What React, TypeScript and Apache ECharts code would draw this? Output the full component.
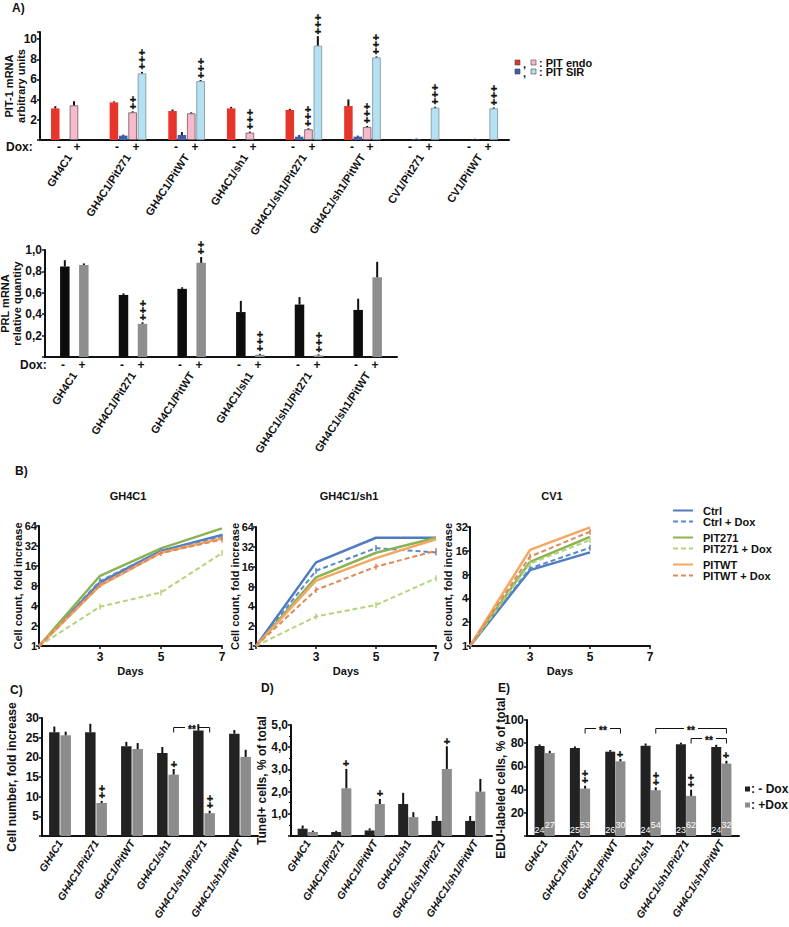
import React, { useEffect, useRef } from "react";
import * as echarts from "echarts";

const FF = "Liberation Sans, Arial, sans-serif";

// ---------------- Panel A: PIT-1 mRNA ----------------
const aGroups = ["GH4C1", "GH4C1/Pit271", "GH4C1/PitWT", "GH4C1/sh1", "GH4C1/sh1/Pit271", "GH4C1/sh1/PitWT", "CV1/Pit271", "CV1/PitWT"];
const aEndoMinus = [3.13, 3.73, 2.87, 3.13, 2.97, 3.37, null, null];
const aEndoMinusErr = [0.17, 0.05, 0.1, 0.1, 0.07, 0.6, 0, 0];
const aSirMinus = [null, 0.43, 0.5, null, 0.33, 0.33, 0.07, 0.05];
const aSirMinusErr = [0, 0.05, 0.23, 0, 0.1, 0.05, 0.02, 0.02];
const aEndoPlus = [3.43, 2.74, 2.64, 0.73, 1.06, 1.29, null, null];
const aEndoPlusErr = [0.36, 0.05, 0.05, 0.05, 0.05, 0.05, 0, 0];
const aEndoPlusSig = ["", "++", "", "+++", "+++", "+++", "", ""];
const aSirPlus = [null, 6.6, 5.84, null, 9.34, 8.18, 3.2, 3.13];
const aSirPlusErr = [0, 0.1, 0.05, 0, 0.9, 0.05, 0.05, 0.05];
const aSirPlusSig = ["", "+++", "+++", "", "+++", "+++", "+++", "+++"];

// ---------------- PRL mRNA ----------------
const prlGroups = ["GH4C1", "GH4C1/Pit271", "GH4C1/PitWT", "GH4C1/sh1", "GH4C1/sh1/Pit271", "GH4C1/sh1/PitWT"];
const prlMinus = [0.845, 0.58, 0.637, 0.42, 0.49, 0.44];
const prlMinusErr = [0.055, 0.01, 0.01, 0.1, 0.065, 0.1];
const prlPlus = [0.86, 0.31, 0.88, 0.02, 0.015, 0.745];
const prlPlusErr = [0.01, 0.01, 0.05, 0.005, 0.005, 0.14];
const prlPlusSig = ["", "+++", "++", "+++", "+++", ""];

// ---------------- Panel B: growth curves ----------------
const days = [1, 3, 5, 7];
const bNames = ["Ctrl", "Ctrl + Dox", "PIT271", "PIT271 + Dox", "PITWT", "PITWT + Dox"];
const ghCtrl = [1, 9.1, 27, 47];
const ghCtrlDox = [1, 9.5, 27, 44];
const ghPit271 = [1, 11.4, 29.5, 59];
const ghPit271Dox = [1, 3.9, 6.4, 25];
const ghPitWT = [1, 8.1, 25.4, 41.7];
const ghPitWTDox = [1, 8.3, 25, 40];
const shCtrl = [1, 18.6, 44, 44];
const shCtrlDox = [1, 13.9, 30.6, 26.3];
const shPit271 = [1, 11, 26, 44];
const shPit271Dox = [1, 2.8, 4.2, 10.7];
const shPitWT = [1, 9.8, 21.6, 41.8];
const shPitWTDox = [1, 7.1, 16, 27.9];
const cvCtrl = [1, 9.1, 15.3];
const cvCtrlDox = [1, 9.6, 17.5];
const cvPit271 = [1, 11.6, 24];
const cvPit271Dox = [1, 11, 21.9];
const cvPitWT = [1, 16.4, 31.7];
const cvPitWTDox = [1, 13.5, 27.9];
const dayTicks = [3, 5, 7];

// ---------------- Panels C, D, E ----------------
const cdeGroups = ["GH4C1", "GH4C1/Pit271", "GH4C1/PitWT", "GH4C1/sh1", "GH4C1/sh1/Pit271", "GH4C1/sh1/PitWT"];
const cMinus = [26.4, 26.4, 22.8, 21.1, 26.8, 26.0];
const cMinusErr = [1.3, 2.0, 1.0, 1.4, 1.5, 0.8];
const cPlus = [25.6, 8.4, 22.1, 15.6, 5.8, 20.1];
const cPlusErr = [0.8, 0.4, 1.4, 1.3, 0.5, 1.7];
const cPlusSig = ["", "++", "", "+", "++", ""];
const cBrackets = [{ c1: 3, c2: 4, y: 27.6 }];

const dMinus = [0.33, 0.18, 0.25, 1.44, 0.68, 0.68];
const dMinusErr = [0.12, 0.03, 0.07, 0.48, 0.2, 0.2];
const dPlus = [0.18, 2.15, 1.44, 0.85, 3.02, 2.0];
const dPlusErr = [0.04, 0.85, 0.21, 0.2, 1.0, 0.55];
const dPlusSig = ["", "+", "+", "", "+", ""];

const eMinus = [77.5, 75.8, 72.7, 77.8, 79, 76.7];
const eMinusErr = [1, 1, 1, 1.5, 1, 1.5];
const ePlus = [71.5, 40.9, 64.4, 39.5, 34.6, 62.4];
const ePlusErr = [1.5, 2, 1.5, 2, 4.9, 2];
const ePlusSig = ["", "++", "+", "++", "++", "+"];
const eMinusN = [24, 25, 26, 24, 23, 24];
const ePlusN = [27, 53, 30, 54, 62, 32];
const eBrackets = [
  { c1: 1, c2: 2, y: 92.7 },
  { c1: 3, c2: 5, y: 92.7 },
  { c1: 4, c2: 5, y: 84.1 },
];

// ---------------- helpers ----------------
const INK = "#111";
const txt = (size: number, extra: any = {}) => ({ fontFamily: FF, fontWeight: "bold", fontSize: size, color: INK, ...extra });
const tStyle = (text: string, size: number, align = "center", strokeW = 0) => ({
  text,
  fill: INK,
  stroke: strokeW > 0 ? INK : "none",
  lineWidth: strokeW,
  fontSize: size,
  fontWeight: "bold",
  fontFamily: FF,
  align,
  verticalAlign: "middle",
});

function offsetOf(slot: number, n: number, w: number, gap: number) {
  const sum = n * w * (1 + gap) - w * gap;
  return -sum / 2 + slot * w * (1 + gap) + w / 2;
}

type ErrItem = { cat: number; val: number; err: number; sig: string; slot: number };

function errItems(vals: (number | null)[], errs: number[], sigs: string[] | null, slot: number): ErrItem[] {
  const out: ErrItem[] = [];
  vals.forEach((v, i) => {
    if (v == null) return;
    out.push({ cat: i, val: v, err: errs[i] || 0, sig: sigs ? sigs[i] : "", slot });
  });
  return out;
}

function errSeries(idx: number, items: ErrItem[], n: number, w: number, gap: number, sigSize: number, first: number, step: number) {
  return {
    type: "custom",
    xAxisIndex: idx,
    yAxisIndex: idx,
    z: 10,
    silent: true,
    itemStyle: { color: INK },
    data: items.map((it) => [it.cat, it.val + it.err]),
    encode: { x: 0, y: 1 },
    renderItem: (params: any, api: any) => {
      const it = items[params.dataIndex];
      const p0 = api.coord([it.cat, it.val]);
      const p1 = api.coord([it.cat, it.val + it.err]);
      const x = p0[0] + offsetOf(it.slot, n, w, gap);
      const children: any[] = [];
      if (it.err > 0)
        children.push({ type: "line", shape: { x1: x, y1: p0[1], x2: x, y2: p1[1] - 0.5 }, style: { stroke: INK, lineWidth: 2 } });
      it.sig.split("").forEach((ch, k) => {
        children.push({ type: "text", x: Math.round(x), y: Math.round(p1[1] - first - k * step), style: tStyle(ch, sigSize, "center", 0.4) });
      });
      return { type: "group", children };
    },
  };
}

function doxSeries(idx: number, nCats: number, marks: [number, string][], n: number, w: number, gap: number, dy: number) {
  const items: { cat: number; slot: number; t: string }[] = [];
  for (let c = 0; c < nCats; c++) for (const [slot, t] of marks) items.push({ cat: c, slot, t });
  return {
    type: "custom",
    xAxisIndex: idx,
    yAxisIndex: idx,
    silent: true,
    itemStyle: { color: INK },
    data: items.map((it) => [it.cat, 0]),
    encode: { x: 0, y: 1 },
    renderItem: (params: any, api: any) => {
      const it = items[params.dataIndex];
      const p = api.coord([it.cat, 0]);
      return { type: "text", x: Math.round(p[0] + offsetOf(it.slot, n, w, gap)), y: Math.round(p[1] + dy), style: tStyle(it.t, 12) };
    },
  };
}

function bracketSeries(idx: number, brs: { c1: number; c2: number; y: number }[], slot: number, n: number, w: number, gap: number) {
  return {
    type: "custom",
    xAxisIndex: idx,
    yAxisIndex: idx,
    silent: true,
    z: 12,
    itemStyle: { color: INK },
    data: brs.map((b) => [b.c1, b.y]),
    encode: { x: 0, y: 1 },
    renderItem: (params: any, api: any) => {
      const b = brs[params.dataIndex];
      const p1 = api.coord([b.c1, b.y]);
      const p2 = api.coord([b.c2, b.y]);
      const x1 = p1[0] + offsetOf(slot, n, w, gap);
      const x2 = p2[0] + offsetOf(slot, n, w, gap);
      const y = Math.round(p1[1]) + 0.5;
      const xm = Math.round((x1 + x2) / 2);
      const st = { stroke: INK, lineWidth: 1, fill: "none" };
      return {
        type: "group",
        children: [
          { type: "polyline", shape: { points: [[x1, y + 5], [x1, y], [xm - 7, y]] }, style: st },
          { type: "polyline", shape: { points: [[xm + 7, y], [x2, y], [x2, y + 5]] }, style: st },
          { type: "text", x: xm, y: y + 1.5, style: tStyle("**", 10, "center", 0.3) },
        ],
      };
    },
  };
}

const axisLine = { show: true, lineStyle: { color: INK, width: 2 } };

function catAxis(grid: number, data: string[], rotate: number, margin: number, italic: boolean, size = 12) {
  return {
    type: "category",
    gridIndex: grid,
    data,
    axisLine,
    axisTick: { show: false },
    axisLabel: { interval: 0, rotate, margin, ...txt(size), fontStyle: italic ? "italic" : "normal", hideOverlap: false },
  };
}

function valAxis(grid: number, max: number, interval: number, fmt: (v: number) => string, name: string, nameGap: number, nameSize = 12, extra: any = {}) {
  return {
    type: "value",
    gridIndex: grid,
    min: 0,
    max,
    interval,
    axisLine,
    axisTick: { show: true, length: 3, lineStyle: { color: INK, width: 1.5 } },
    splitLine: { show: false },
    axisLabel: { ...txt(12), margin: 3, formatter: fmt },
    name,
    nameLocation: "middle",
    nameGap,
    nameRotate: 90,
    nameMoveOverlap: false,
    nameTextStyle: txt(nameSize, { lineHeight: nameSize + 1 }),
    ...extra,
  };
}

function barSeries(idx: number, name: string, data: (number | null)[], color: string, w: number, gap: string, extra: any = {}) {
  return {
    type: "bar",
    name,
    xAxisIndex: idx,
    yAxisIndex: idx,
    data,
    barWidth: w,
    barGap: gap,
    itemStyle: { color },
    ...extra,
  };
}

const bColors = ["#4f7cc1", "#5b88c8", "#8ab352", "#b3d47a", "#f5a662", "#dd8a58"];
const bDashed = [false, true, false, true, false, true];

function lineSet(idx: number, sets: number[][]) {
  return sets.map((vals, k) => ({
    type: "line",
    name: bNames[k],
    xAxisIndex: idx,
    yAxisIndex: idx,
    data: vals.map((v, i) => (i === 0 ? { value: [days[i], v], symbol: "none" } : [days[i], v])),
    showSymbol: bDashed[k],
    symbol: "rect",
    symbolSize: [1.5, 6],
    itemStyle: { color: bColors[k] },
    lineStyle: { color: bColors[k], width: bDashed[k] ? 2 : 2.5, type: bDashed[k] ? [5, 3] : "solid" },
    z: 3,
  }));
}

function bxAxis(grid: number) {
  return {
    type: "value",
    gridIndex: grid,
    min: 1,
    max: 7,
    interval: 2,
    axisLine,
    axisTick: { show: true, length: 3, lineStyle: { color: INK, width: 1.5 } },
    splitLine: { show: false },
    axisLabel: { ...txt(12), margin: 5, formatter: (v: number) => (dayTicks.indexOf(v) >= 0 ? String(v) : "") },
    name: "Days",
    nameLocation: "middle",
    nameGap: 19,
    nameMoveOverlap: false,
    nameTextStyle: txt(11),
  };
}

function byAxis(grid: number, max: number, splits: number, nameGap: number) {
  return {
    type: "log",
    logBase: 2,
    gridIndex: grid,
    min: 1,
    max,
    splitNumber: splits,
    axisLine,
    axisTick: { show: true, length: 3, lineStyle: { color: INK, width: 1.5 } },
    splitLine: { show: false },
    minorTick: { show: false },
    axisLabel: { ...txt(11), margin: 2, formatter: (v: number) => String(Math.round(v)) },
    name: "Cell count, fold increase",
    nameLocation: "middle",
    nameGap,
    nameRotate: 90,
    nameMoveOverlap: false,
    nameTextStyle: txt(11),
  };
}

const comma1 = (v: number) => (v <= 0 ? "" : v.toFixed(1).replace(".", ","));

function buildOption(): any {
  const aW = 8.5, aG = 0.1;
  const pW = 9.5, pG = 1.0;
  const cW = 10.5, cG = 0.08;
  const dW = 10, dG = 0.02;
  const eW = 10, eG = 0.02;

  const g = (left: number, top: number, width: number, height: number) => ({
    left, top, width, height, containLabel: false, outerBoundsMode: "none",
  });
  const grid = [
    g(40, 32, 469, 108),
    g(45, 250, 352, 107),
    g(39, 526, 183, 120),
    g(256, 527, 180, 119),
    g(470, 527, 180, 119),
    g(42, 718, 216, 118),
    g(291, 725, 201, 111),
    g(527, 720, 212, 116),
  ];

  const xAxis = [
    catAxis(0, aGroups, 57, 15, false, 11),
    catAxis(1, prlGroups, 57, 16, false, 11),
    bxAxis(2),
    bxAxis(3),
    bxAxis(4),
    catAxis(5, cdeGroups, 58, 5, true, 10.5),
    catAxis(6, cdeGroups, 58, 5, true, 10.5),
    catAxis(7, cdeGroups, 58, 5, true, 10.5),
  ];

  const yAxis = [
    valAxis(0, 10.7, 2, (v) => (v > 0 && v % 2 === 0 ? String(v) : ""), "PIT-1 mRNA\narbitrary units", 13, 11),
    valAxis(1, 1.0, 0.2, comma1, "PRL mRNA\nrelative quantity", 22, 11),
    byAxis(2, 64, 6, 16),
    byAxis(3, 64, 6, 16),
    byAxis(4, 32, 5, 17),
    valAxis(5, 30, 5, (v) => (v > 0 ? String(v) : ""), "Cell number, fold increase", 24),
    valAxis(6, 5, 1, comma1, "Tunel+ cells, % of total", 23, 12, {
      minorTick: { show: true, splitNumber: 2, length: 2, lineStyle: { color: INK, width: 1 } },
    }),
    valAxis(7, 100, 20, (v) => (v > 0 ? String(v) : ""), "EDU-labeled cells, % of total", 20),
  ];

  const series: any[] = [
    // A
    barSeries(0, "PIT endo -", aEndoMinus, "#e8352b", aW, "10%"),
    barSeries(0, "PIT SIR -", aSirMinus, "#3e5ea9", aW, "10%"),
    barSeries(0, "PIT endo +", aEndoPlus, "#f5bacb", aW, "10%", { itemStyle: { color: "#f5bacb", borderColor: "#6e5a60", borderWidth: 0.8 } }),
    barSeries(0, "PIT SIR +", aSirPlus, "#b5e1f4", aW, "10%", { itemStyle: { color: "#b5e1f4", borderColor: "#7d8f97", borderWidth: 0.8 } }),
    errSeries(
      0,
      [
        ...errItems(aEndoMinus, aEndoMinusErr, null, 0),
        ...errItems(aSirMinus, aSirMinusErr, null, 1),
        ...errItems(aEndoPlus, aEndoPlusErr, aEndoPlusSig, 2),
        ...errItems(aSirPlus, aSirPlusErr, aSirPlusSig, 3),
      ],
      4, aW, aG, 11, 6, 7
    ),
    doxSeries(0, aGroups.length, [[0.35, "-"], [2.35, "+"]], 4, aW, aG, 7),
    // PRL
    barSeries(1, "PRL -", prlMinus, "#0d0d0d", pW, "100%"),
    barSeries(1, "PRL +", prlPlus, "#8e8e8e", pW, "100%"),
    errSeries(1, [...errItems(prlMinus, prlMinusErr, null, 0), ...errItems(prlPlus, prlPlusErr, prlPlusSig, 1)], 2, pW, pG, 11, 6, 7),
    doxSeries(1, prlGroups.length, [[-0.1, "-"], [0.9, "+"]], 2, pW, pG, 8),
    // B
    ...lineSet(2, [ghCtrl, ghCtrlDox, ghPit271, ghPit271Dox, ghPitWT, ghPitWTDox]),
    ...lineSet(3, [shCtrl, shCtrlDox, shPit271, shPit271Dox, shPitWT, shPitWTDox]),
    ...lineSet(4, [cvCtrl, cvCtrlDox, cvPit271, cvPit271Dox, cvPitWT, cvPitWTDox]),
    // C
    barSeries(5, "C -", cMinus, "#222222", cW, "8%"),
    barSeries(5, "C +", cPlus, "#8c8c8c", cW, "8%"),
    errSeries(5, [...errItems(cMinus, cMinusErr, null, 0), ...errItems(cPlus, cPlusErr, cPlusSig, 1)], 2, cW, cG, 11, 6, 7.3),
    bracketSeries(5, cBrackets, 1, 2, cW, cG),
    // D
    barSeries(6, "D -", dMinus, "#222222", dW, "2%"),
    barSeries(6, "D +", dPlus, "#8c8c8c", dW, "2%"),
    errSeries(6, [...errItems(dMinus, dMinusErr, null, 0), ...errItems(dPlus, dPlusErr, dPlusSig, 1)], 2, dW, dG, 11, 6, 7.3),
    // E
    barSeries(7, "- Dox", eMinus, "#222222", eW, "2%", {
      label: { show: true, position: "insideBottom", distance: 2, color: "#fff", fontSize: 9, fontFamily: FF, formatter: (p: any) => String(eMinusN[p.dataIndex]) },
    }),
    barSeries(7, "+Dox", ePlus, "#8c8c8c", eW, "2%", {
      label: { show: true, position: "insideBottom", distance: 7, color: "#fff", fontSize: 9, fontFamily: FF, formatter: (p: any) => String(ePlusN[p.dataIndex]) },
    }),
    errSeries(7, [...errItems(eMinus, eMinusErr, null, 0), ...errItems(ePlus, ePlusErr, ePlusSig, 1)], 2, eW, eG, 11, 6, 7.3),
    bracketSeries(7, eBrackets, 1, 2, eW, eG),
  ];

  const bLegend = (names: string[], top: number) => ({
    orient: "vertical",
    left: 672,
    top,
    padding: 0,
    itemWidth: 20,
    itemHeight: 9,
    itemGap: 0,
    selectedMode: false,
    data: names,
    itemStyle: { opacity: 0 },
    textStyle: txt(11, { padding: [0, 0, 0, 5] }),
  });

  const legend = [
    bLegend(["Ctrl", "Ctrl + Dox"], 505),
    bLegend(["PIT271", "PIT271 + Dox"], 532),
    bLegend(["PITWT", "PITWT + Dox"], 559),
    {
      orient: "vertical",
      left: 745,
      top: 783,
      padding: 0,
      itemWidth: 5,
      itemHeight: 5,
      itemGap: 4,
      icon: "rect",
      selectedMode: false,
      data: ["- Dox", "+Dox"],
      formatter: (n: string) => ": " + n,
      textStyle: txt(12, { padding: [0, 0, 0, -4] }),
    },
  ];

  const T = (text: string, x: number, y: number, size = 12, align = "left") => ({
    type: "text",
    x,
    y,
    silent: true,
    style: tStyle(text, size, align),
  });
  const sq = (x: number, y: number, fill: string) => ({
    type: "rect",
    silent: true,
    shape: { x, y, width: 5, height: 5 },
    style: { fill, stroke: "#444", lineWidth: 0.6 },
  });

  const graphic = [
    T("A)", 12, 8),
    T("B)", 15, 471),
    T("C)", 10, 690),
    T("D)", 261, 688),
    T("E)", 498, 688),
    T("Dox:", 6, 147, 12),
    T("Dox:", 20, 365, 12),
    sq(515, 60, "#e8352b"),
    T(",", 523, 64, 11),
    sq(531, 60, "#f5bacb"),
    T(": PIT endo", 539, 63, 11),
    sq(515, 69, "#3e5ea9"),
    T(",", 523, 73, 11),
    sq(531, 69, "#b5e1f4"),
    T(": PIT SIR", 539, 72, 11),
    T("GH4C1", 128, 496, 11, "center"),
    T("GH4C1/sh1", 349, 496, 11, "center"),
    T("CV1", 552, 496, 11, "center"),
  ];

  return { animation: false, backgroundColor: "#fff", grid, xAxis, yAxis, series, legend, graphic };
}

export default function App() {
  const ref = useRef<HTMLDivElement>(null);
  useEffect(() => {
    const chart = echarts.init(ref.current!, null, { renderer: "svg", width: 789, height: 927 });
    chart.setOption(buildOption());
    return () => chart.dispose();
  }, []);
  return <div ref={ref} style={{ position: "fixed", left: 0, top: 0, width: 789, height: 927, background: "#fff" }} />;
}
